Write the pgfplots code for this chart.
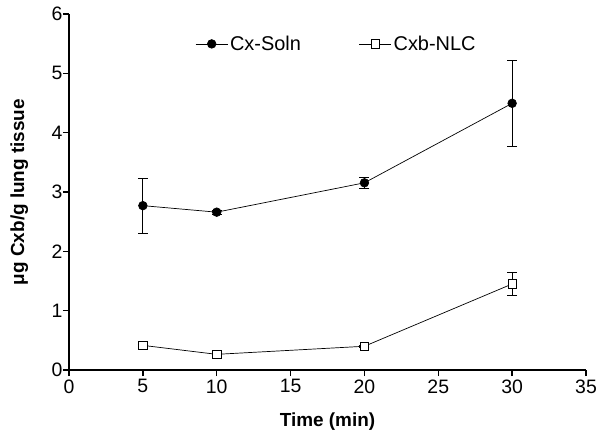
\documentclass[border=0pt]{standalone}
\usepackage{pgfplots}
\pgfplotsset{compat=1.18}
\usepackage{fontspec}
\setmainfont{Liberation Sans}
\begin{document}
\begin{tikzpicture}
\useasboundingbox (-69bp,-64bp) rectangle (531bp,370bp);
\begin{axis}[
  at={(0,0)}, anchor=south west,
  scale only axis, width=517bp, height=356bp,
  xmin=0, xmax=35, ymin=0, ymax=6,
  xtick={0,5,...,35}, ytick={0,1,...,6},
  axis x line*=bottom, axis y line*=left,
  axis line style={line width=1.8bp, -},
  tick style={line width=1.5bp, black},
  tick align=outside, major tick length=6bp,
  /pgf/number format/assume math mode=true,
  xticklabel style={font=\fontsize{19.5}{23}\selectfont},
  yticklabel style={font=\fontsize{19.5}{23}\selectfont, xshift=3bp},
  xlabel={\bfseries Time (min)},
  ylabel={\bfseries μg Cxb/g lung tissue},
  xlabel style={font=\fontsize{19}{22}\selectfont, at={(axis description cs:0.5,-0.158)}, anchor=base},
  ylabel style={font=\fontsize{19}{22}\selectfont, at={(axis description cs:-0.087,0.5)}, anchor=base},
  legend columns=2,
  legend style={draw=none, fill=none, at={(0.244,0.916)}, anchor=west,
    inner xsep=0pt, inner ysep=0pt, font=\fontsize{20}{24}\selectfont,
    /tikz/every even column/.append style={column sep=56bp},
    nodes={inner xsep=2bp}},
  legend cell align=left,
  legend image code/.code={\draw[#1, mark repeat=2, mark phase=2] plot coordinates {(0bp,0bp)(16bp,0bp)(32bp,0bp)};},
]
\addplot[black, line width=0.7bp, mark=*, mark size=4.3bp,
  mark options={solid, fill=black},
  error bars/.cd, y dir=both, y explicit,
  error bar style={line width=0.8bp}, error mark options={rotate=90, mark size=5bp, line width=0.8bp}]
  coordinates {
  (5,2.77) +- (0,0.46)
  (10,2.66) +- (0,0.03)
  (20,3.155) +- (0,0.09)
  (30,4.495) +- (0,0.72)
};
\addlegendentry{Cx-Soln}
\addplot[black, line width=0.7bp, mark=square*, mark size=4.2bp,
  mark options={solid, fill=white, line width=0.8bp},
  error bars/.cd, y dir=both, y explicit,
  error bar style={line width=0.8bp}, error mark options={rotate=90, mark size=5bp, line width=0.8bp}]
  coordinates {
  (5,0.415) +- (0,0.02)
  (10,0.264) +- (0,0.02)
  (20,0.40) +- (0,0.02)
  (30,1.45) +- (0,0.195)
};
\addlegendentry{Cxb-NLC}
\end{axis}
\end{tikzpicture}
\end{document}
